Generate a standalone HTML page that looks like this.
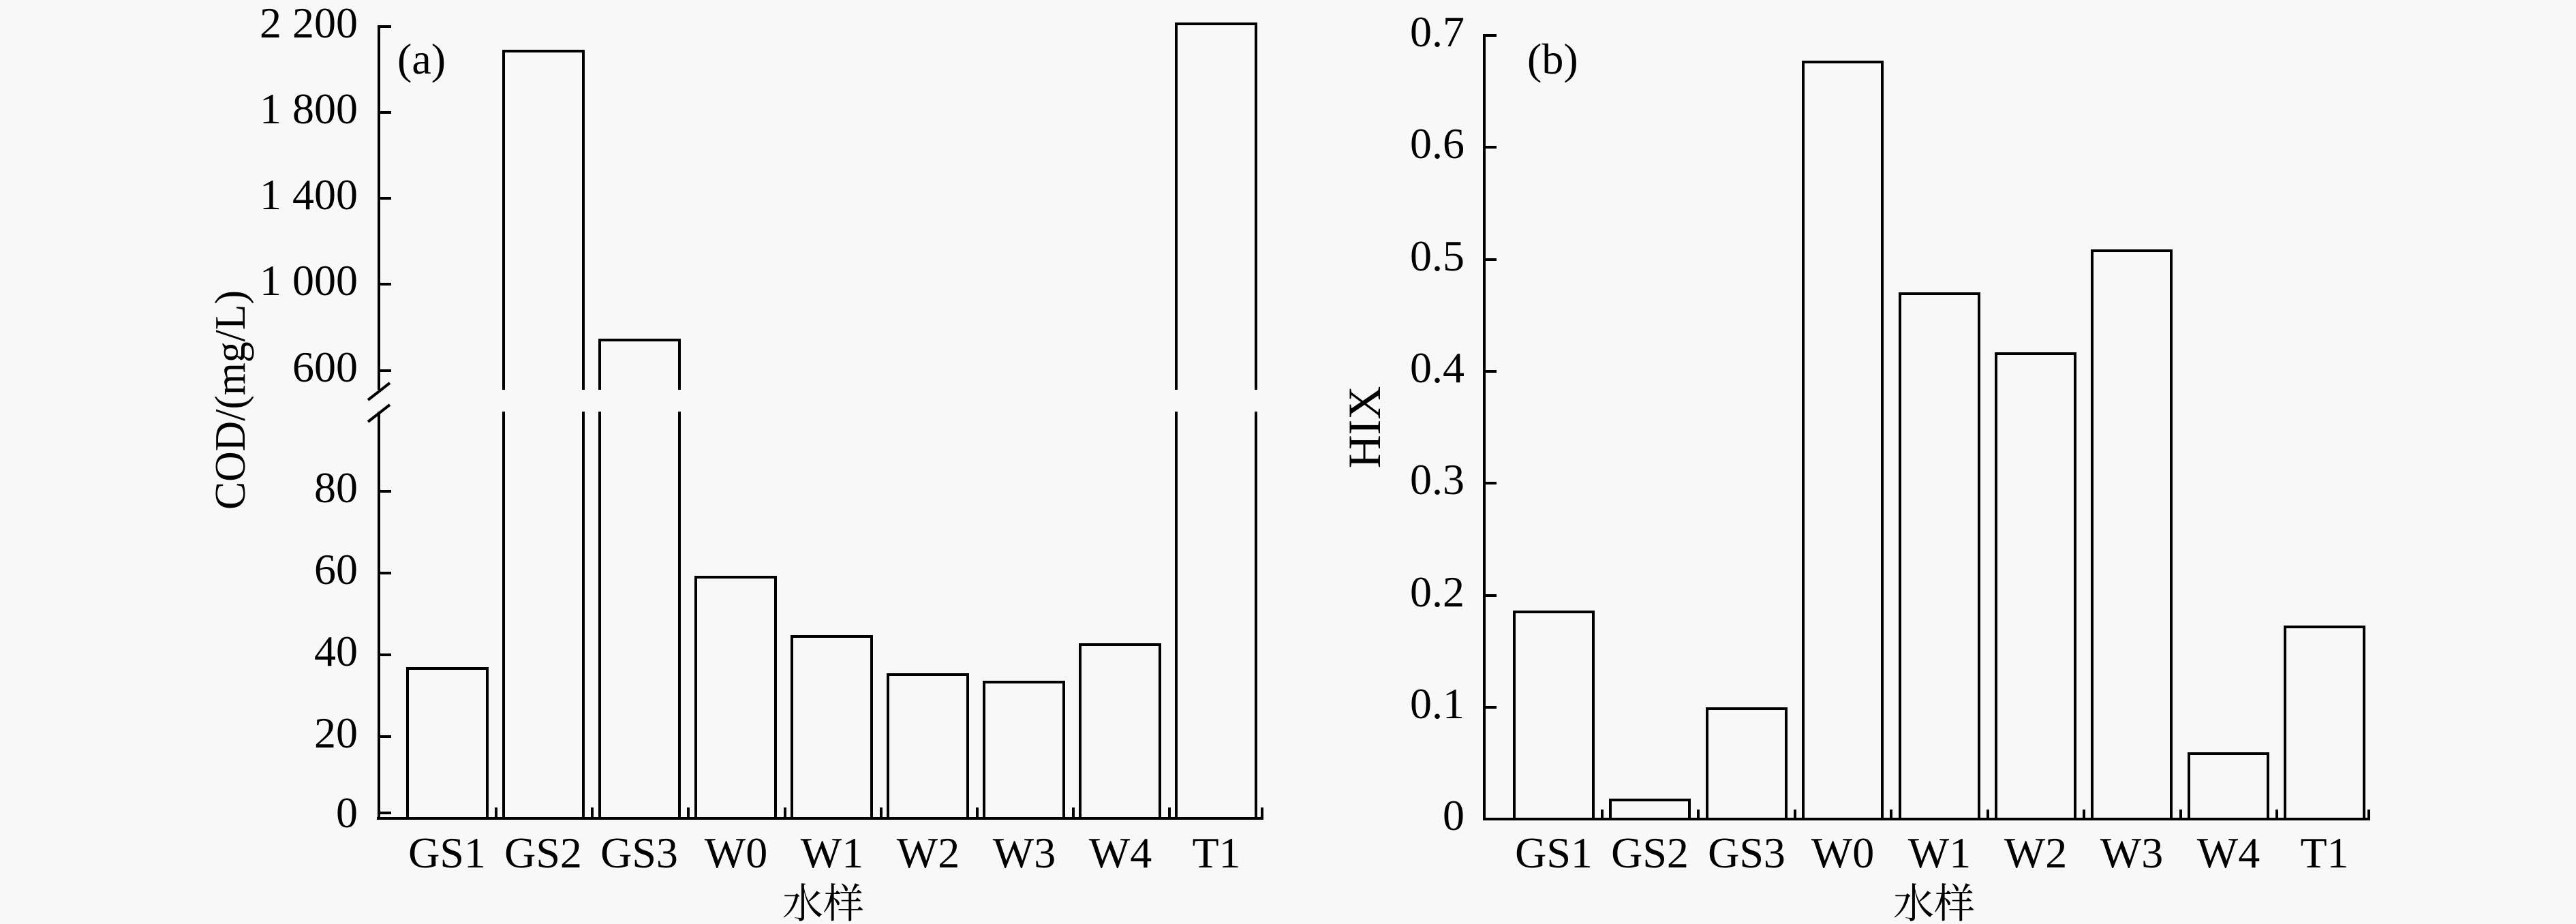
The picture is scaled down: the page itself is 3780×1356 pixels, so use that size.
<!DOCTYPE html>
<html><head><meta charset="utf-8"><style>html,body{margin:0;padding:0;background:#f8f8f8}svg{display:block}
text{font-family:"Liberation Serif","Noto Serif CJK SC",serif;font-size:64px;fill:#000}
.cjk{font-family:"Liberation Serif","Noto Serif CJK SC","Noto Sans CJK SC",serif;font-size:60px}
.n{transform-box:fill-box}
</style></head>
<body>
<svg width="3780" height="1356" viewBox="0 0 3780 1356" xmlns="http://www.w3.org/2000/svg">
<rect width="3780" height="1356" fill="#f8f8f8"/>
<g stroke="#000" stroke-width="4" fill="none">
<line x1="556" y1="37" x2="556" y2="572"/>
<line x1="556" y1="604" x2="556" y2="1202"/>
<line x1="540" y1="587" x2="572" y2="562"/>
<line x1="540" y1="619" x2="572" y2="594"/>
<line x1="553" y1="1201" x2="1854" y2="1201"/>
<line x1="556" y1="39" x2="574" y2="39"/>
<line x1="556" y1="165" x2="574" y2="165"/>
<line x1="556" y1="291" x2="574" y2="291"/>
<line x1="556" y1="417" x2="574" y2="417"/>
<line x1="556" y1="544" x2="574" y2="544"/>
<line x1="556" y1="721" x2="574" y2="721"/>
<line x1="556" y1="841" x2="574" y2="841"/>
<line x1="556" y1="961" x2="574" y2="961"/>
<line x1="556" y1="1081" x2="574" y2="1081"/>
<line x1="556" y1="1193" x2="574" y2="1193"/>
<line x1="728" y1="1185" x2="728" y2="1201"/>
<line x1="869" y1="1185" x2="869" y2="1201"/>
<line x1="1010" y1="1185" x2="1010" y2="1201"/>
<line x1="1152" y1="1185" x2="1152" y2="1201"/>
<line x1="1293" y1="1185" x2="1293" y2="1201"/>
<line x1="1434" y1="1185" x2="1434" y2="1201"/>
<line x1="1575" y1="1185" x2="1575" y2="1201"/>
<line x1="1716" y1="1185" x2="1716" y2="1201"/>
<line x1="1852" y1="1185" x2="1852" y2="1201"/>
<polyline points="598,1201 598,981 715,981 715,1201"/>
<polyline points="739,572 739,75 856,75 856,572"/>
<polyline points="739,1201 739,604"/><polyline points="856,1201 856,604"/>
<polyline points="880,572 880,499 997,499 997,572"/>
<polyline points="880,1201 880,604"/><polyline points="997,1201 997,604"/>
<polyline points="1021,1201 1021,847 1138,847 1138,1201"/>
<polyline points="1162,1201 1162,934 1279,934 1279,1201"/>
<polyline points="1303,1201 1303,990 1420,990 1420,1201"/>
<polyline points="1444,1201 1444,1001 1561,1001 1561,1201"/>
<polyline points="1585,1201 1585,946 1702,946 1702,1201"/>
<polyline points="1726,572 1726,35 1843,35 1843,572"/>
<polyline points="1726,1201 1726,604"/><polyline points="1843,1201 1843,604"/>
<line x1="2178" y1="50" x2="2178" y2="1204"/>
<line x1="2176" y1="1202" x2="3478" y2="1202"/>
<line x1="2178" y1="52" x2="2196" y2="52"/>
<line x1="2178" y1="216" x2="2196" y2="216"/>
<line x1="2178" y1="381" x2="2196" y2="381"/>
<line x1="2178" y1="545" x2="2196" y2="545"/>
<line x1="2178" y1="709" x2="2196" y2="709"/>
<line x1="2178" y1="874" x2="2196" y2="874"/>
<line x1="2178" y1="1038" x2="2196" y2="1038"/>
<line x1="2351" y1="1188" x2="2351" y2="1202"/>
<line x1="2492" y1="1188" x2="2492" y2="1202"/>
<line x1="2634" y1="1188" x2="2634" y2="1202"/>
<line x1="2775" y1="1188" x2="2775" y2="1202"/>
<line x1="2917" y1="1188" x2="2917" y2="1202"/>
<line x1="3058" y1="1188" x2="3058" y2="1202"/>
<line x1="3200" y1="1188" x2="3200" y2="1202"/>
<line x1="3341" y1="1188" x2="3341" y2="1202"/>
<line x1="3476" y1="1188" x2="3476" y2="1202"/>
<polyline points="2222,1202 2222,898 2338,898 2338,1202"/>
<polyline points="2363,1202 2363,1174 2479,1174 2479,1202"/>
<polyline points="2505,1202 2505,1040 2621,1040 2621,1202"/>
<polyline points="2646,1202 2646,91 2762,91 2762,1202"/>
<polyline points="2788,1202 2788,431 2904,431 2904,1202"/>
<polyline points="2929,1202 2929,519 3045,519 3045,1202"/>
<polyline points="3070,1202 3070,368 3186,368 3186,1202"/>
<polyline points="3212,1202 3212,1106 3328,1106 3328,1202"/>
<polyline points="3353,1202 3353,920 3469,920 3469,1202"/>
</g>
<g text-anchor="end">
<text x="525" y="55">2 200</text>
<text x="525" y="181">1 800</text>
<text x="525" y="307">1 400</text>
<text x="525" y="433">1 000</text>
<text x="525" y="560">600</text>
<text x="525" y="737">80</text>
<text x="525" y="857">60</text>
<text x="525" y="977">40</text>
<text x="525" y="1097">20</text>
<text x="525" y="1214">0</text>
</g>
<text x="583" y="108">(a)</text>
<text transform="translate(359,587) rotate(-90)" text-anchor="middle" textLength="322" lengthAdjust="spacingAndGlyphs">COD/(mg/L)</text>
<g text-anchor="middle">
<text x="656" y="1273">GS1</text>
<text x="797" y="1273">GS2</text>
<text x="938" y="1273">GS3</text>
<text x="1080" y="1273">W0</text>
<text x="1221" y="1273">W1</text>
<text x="1362" y="1273">W2</text>
<text x="1503" y="1273">W3</text>
<text x="1644" y="1273">W4</text>
<text x="1785" y="1273">T1</text>
<text x="1208" y="1347" class="cjk">水样</text>
</g>
<g text-anchor="end">
<text x="2149" y="68">0.7</text>
<text x="2149" y="232">0.6</text>
<text x="2149" y="397">0.5</text>
<text x="2149" y="561">0.4</text>
<text x="2149" y="725">0.3</text>
<text x="2149" y="890">0.2</text>
<text x="2149" y="1054">0.1</text>
<text x="2149" y="1218">0</text>
</g>
<text x="2241" y="108">(b)</text>
<text transform="translate(2025,627) rotate(-90)" text-anchor="middle" style="font-size:68px">HIX</text>
<g text-anchor="middle">
<text x="2280" y="1273">GS1</text>
<text x="2421" y="1273">GS2</text>
<text x="2563" y="1273">GS3</text>
<text x="2704" y="1273">W0</text>
<text x="2846" y="1273">W1</text>
<text x="2987" y="1273">W2</text>
<text x="3128" y="1273">W3</text>
<text x="3270" y="1273">W4</text>
<text x="3411" y="1273">T1</text>
<text x="2838" y="1347" class="cjk">水样</text>
</g>
</svg>
</body></html>
